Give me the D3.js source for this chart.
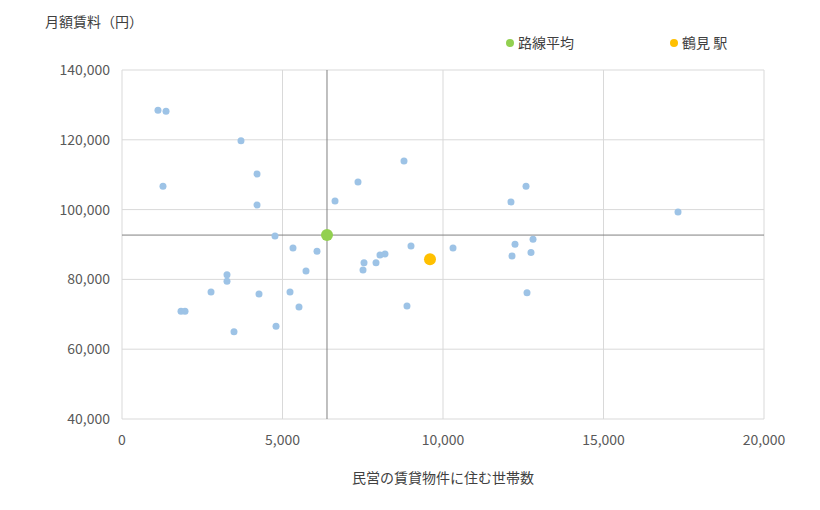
<!DOCTYPE html>
<html><head><meta charset="utf-8">
<script src="https://cdn.jsdelivr.net/npm/d3@7"></script>
<style>body{margin:0;background:#fff}text{font-family:"Noto Sans CJK JP","Noto Sans",sans-serif;}</style>
</head><body><svg id="c" width="820" height="510"></svg>
<script>
const stationX = [1121,1371,1277,3707,4206,4206,4766,5327,6075,5732,6636,7352,8785,7539,7508,7913,8037,8193,9003,10312,8878,3271,3271,2773,1838,1963,3489,4268,4798,5234,5514,12118,12586,12243,12150,12804,12741,12617,17321];
const stationY = [128500,128200,106700,119700,110200,101300,92400,89000,88100,82400,102500,107900,113900,84800,82700,84800,87000,87300,89600,89000,72400,81300,79500,76400,70900,70900,65000,75800,66600,76400,72100,102200,106700,90100,86700,91500,87700,76200,99300];
const avgPoint = [6386, 92700];
const targetPoint = [9595, 85800];
const xTicks = [0,5000,10000,15000,20000];
const yTicks = [40000,60000,80000,100000,120000,140000];
const legendLabels = ["路線平均","鶴見 駅"];

const svg = d3.select("#c");
const x = d3.scaleLinear().domain([0,20000]).range([122,764]);
const y = d3.scaleLinear().domain([40000,140000]).range([419,70]);
const fmt = d3.format(",");

const g = svg.append("g");
g.selectAll(".gx").data(xTicks).join("line").attr("x1",d=>x(d)).attr("x2",d=>x(d)).attr("y1",70).attr("y2",419).attr("stroke","#d9d9d9");
g.selectAll(".gy").data(yTicks).join("line").attr("y1",d=>y(d)).attr("y2",d=>y(d)).attr("x1",122).attr("x2",764).attr("stroke","#d9d9d9");

g.selectAll(".xl").data(xTicks).join("text").attr("x",d=>x(d)).attr("y",445).attr("text-anchor","middle").attr("font-size",14).attr("fill","#595959").text(fmt);
g.selectAll(".yl").data(yTicks).join("text").attr("x",110).attr("y",d=>y(d)+5).attr("text-anchor","end").attr("font-size",14).attr("fill","#595959").text(fmt);

// crosshair
g.append("line").attr("x1",x(avgPoint[0])).attr("x2",x(avgPoint[0])).attr("y1",70).attr("y2",419).attr("stroke","#808080");
g.append("line").attr("x1",122).attr("x2",764).attr("y1",y(avgPoint[1])).attr("y2",y(avgPoint[1])).attr("stroke","#808080");

g.selectAll(".p").data(stationX.map((v,i)=>[v,stationY[i]])).join("circle")
 .attr("cx",d=>x(d[0])).attr("cy",d=>y(d[1])).attr("r",3.5).attr("fill","#9dc3e6");
g.append("circle").attr("cx",x(avgPoint[0])).attr("cy",y(avgPoint[1])).attr("r",6).attr("fill","#92d050");
g.append("circle").attr("cx",x(targetPoint[0])).attr("cy",y(targetPoint[1])).attr("r",6).attr("fill","#ffc000");

svg.append("text").attr("x",45).attr("y",27).attr("font-size",14).attr("fill","#404040").text("月額賃料（円）");
svg.append("text").attr("x",443).attr("y",483).attr("text-anchor","middle").attr("font-size",14).attr("fill","#404040").text("民営の賃貸物件に住む世帯数");

const leg = [[510,"#92d050"],[674,"#ffc000"]];
leg.forEach((l,i)=>{
  svg.append("circle").attr("cx",l[0]).attr("cy",43).attr("r",4).attr("fill",l[1]);
  svg.append("text").attr("x",l[0]+8).attr("y",48).attr("font-size",14).attr("fill","#404040").text(legendLabels[i]);
});
</script></body></html>
